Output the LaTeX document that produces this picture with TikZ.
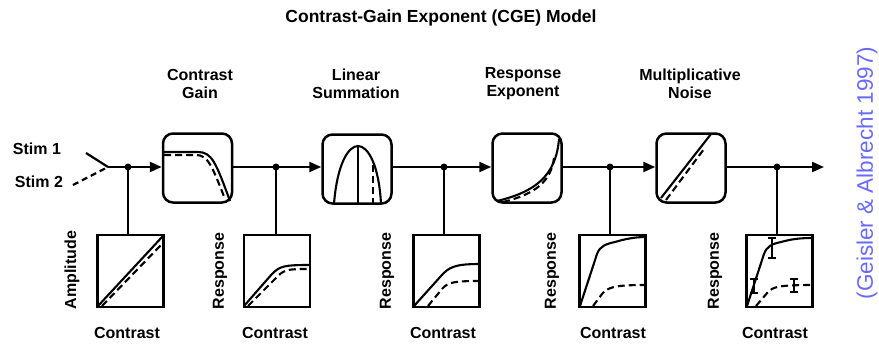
\documentclass[tikz,border=0pt]{standalone}
\usepackage{fontspec}
\setmainfont{Liberation Sans}
\usetikzlibrary{arrows.meta}
\definecolor{cite}{RGB}{105,105,255}
\tikzset{
  stage/.style={draw,line width=2.5pt,rounded corners=10pt,minimum width=69pt,minimum height=69pt,inner sep=0pt},
  plotbox/.style={draw,line width=2.4pt,minimum width=66pt,minimum height=72pt,inner sep=0pt},
  lbl/.style={font=\bfseries\fontsize{16}{18}\selectfont,align=center,inner sep=0pt},
  conn/.style={line width=2.2pt},
  arr/.style={conn,-{Triangle[length=12pt,width=10pt]}},
  curve/.style={line width=2.1pt},
  dcurve/.style={line width=2.1pt,dash pattern=on 7pt off 4pt},
  dot/.style={circle,fill,inner sep=0pt,minimum size=7pt},
  ebar/.style={line width=1.5pt}
}
\begin{document}
\begin{tikzpicture}[x=1pt,y=-1pt]
\useasboundingbox (0,0) rectangle (879,345);
% title
\node[font=\bfseries\fontsize{17.5}{20}\selectfont] (title) at (441,18) {Contrast-Gain Exponent (CGE) Model};
% citation
\node[rotate=90,text=cite,font=\fontsize{22.5}{26}\selectfont] (cite) at (867,173) {(Geisler \& Albrecht 1997)};
% stimuli
\node[lbl] (s1) at (37,149) {Stim 1};
\node[lbl] (s2) at (39,182) {Stim 2};
\coordinate (v) at (108,167);
\coordinate (s1e) at (86,153);
\coordinate (s2e) at (73,185);
\draw[conn] (s1e) -- (v);
\draw[conn,dash pattern=on 6pt off 4pt] (s2e) -- (v);
% stage boxes
\node[stage] (b1) at (197.5,168) {};
\node[stage] (b2) at (357,169) {};
\node[stage] (b3) at (527,168) {};
\node[stage] (b4) at (691,168) {};
% stage labels
\node[lbl] (t1) at (200,84) {Contrast\\Gain};
\node[lbl] (t2) at (356,84) {Linear\\Summation};
\node[lbl] (t3) at (523,84) {Response\\Exponent};
\node[lbl] (t4) at (690,84) {Multiplicative\\Noise};
% junctions
\coordinate (j1) at (128,167);
\coordinate (j2) at (276,167);
\coordinate (j3) at (444,167);
\coordinate (j4) at (610,167);
\coordinate (j5) at (777,167);
\coordinate (out) at (824,167);
\node[dot] (d1) at (j1) {};
\node[dot] (d2) at (j2) {};
\node[dot] (d3) at (j3) {};
\node[dot] (d4) at (j4) {};
\node[dot] (d5) at (j5) {};
% main line
\draw[arr] (v) -- (b1.west |- v);
\draw[arr] (b1.east |- j2) -- (b2.west |- j2);
\draw[arr] (b2.east |- j3) -- (b3.west |- j3);
\draw[arr] (b3.east |- j4) -- (b4.west |- j4);
\draw[arr] (b4.east |- j5) -- (out);
% plot boxes
\node[plotbox] (p1) at (130.5,271) {};
\node[plotbox] (p2) at (277,271) {};
\node[plotbox] (p3) at (446.5,271) {};
\node[plotbox] (p4) at (612.5,271) {};
\node[plotbox] (p5) at (779.5,271) {};
\draw[conn] (j1) -- (j1 |- p1.north);
\draw[conn] (j2) -- (j2 |- p2.north);
\draw[conn] (j3) -- (j3 |- p3.north);
\draw[conn] (j4) -- (j4 |- p4.north);
\draw[conn] (j5) -- (j5 |- p5.north);
% axis labels
\node[lbl,rotate=90] (a1) at (72,270) {Amplitude};
\node[lbl,rotate=90] (a2) at (220,271) {Response};
\node[lbl,rotate=90] (a3) at (387,271) {Response};
\node[lbl,rotate=90] (a4) at (552,271) {Response};
\node[lbl,rotate=90] (a5) at (715,271) {Response};
\node[lbl] (c1) at (127,333) {Contrast};
\node[lbl] (c2) at (275,333) {Contrast};
\node[lbl] (c3) at (443,333) {Contrast};
\node[lbl] (c4) at (613,333) {Contrast};
\node[lbl] (c5) at (775,333) {Contrast};
% --- stage box contents ---
% contrast gain
\draw[curve] (164,152) -- (198,152) .. controls (212,152) and (216,163) .. (230,201);
\draw[dcurve] (164,155) -- (196,155) .. controls (208,155) and (212,166) .. (225,199);
% linear summation
\draw[curve] (334,204) .. controls (337,165) and (348,146) .. (358,146) .. controls (368,146) and (379,165) .. (381,204);
\draw[curve] (358,146) -- (358,204);
\draw[dcurve] (373,165) -- (373,204);
% response exponent
\draw[curve] (497,201) .. controls (535,192) and (556,176) .. (559,139);
\draw[dcurve] (503,202) .. controls (536,194) and (551,181) .. (554,158);
% multiplicative noise
\draw[curve] (661,198) -- (711,134);
\draw[dcurve] (666,200) -- (704,149);
% --- plot contents ---
% plot 1
\draw[curve] (98,306) -- (163,236);
\draw[dcurve] (102,306) -- (162,244);
% plot 2
\draw[curve] (244,306) -- (272,274) .. controls (280,266) and (284,265) .. (310,265);
\draw[dcurve] (248,306) -- (278,276) .. controls (285,269) and (290,269) .. (310,269);
% plot 3
\draw[curve] (414,306) -- (441,276) .. controls (449,267) and (455,264) .. (480,264);
\draw[dcurve] (428,306) -- (442,289) .. controls (448,282) and (455,281) .. (480,281);
% plot 4
\draw[curve] (580,306) -- (597,254) .. controls (600,246) and (606,244) .. (615,242) .. controls (625,239) and (635,237) .. (646,237);
\draw[dcurve] (593,306) -- (602,294) .. controls (608,287) and (615,285) .. (646,285);
% plot 5
\draw[curve] (747,306) -- (764,254) .. controls (767,246) and (772,244) .. (781,242) .. controls (792,239) and (800,238) .. (813,238);
\draw[dcurve] (756,306) -- (768,292) .. controls (773,287) and (778,285) .. (813,285);
\draw[ebar] (772,238) -- (772,258) (768,238) -- (776,238) (768,258) -- (776,258);
\draw[ebar] (754,279) -- (754,293) (750,279) -- (758,279) (750,293) -- (758,293);
\draw[ebar] (794,279) -- (794,292) (790,279) -- (798,279) (790,292) -- (798,292);
\end{tikzpicture}
\end{document}
